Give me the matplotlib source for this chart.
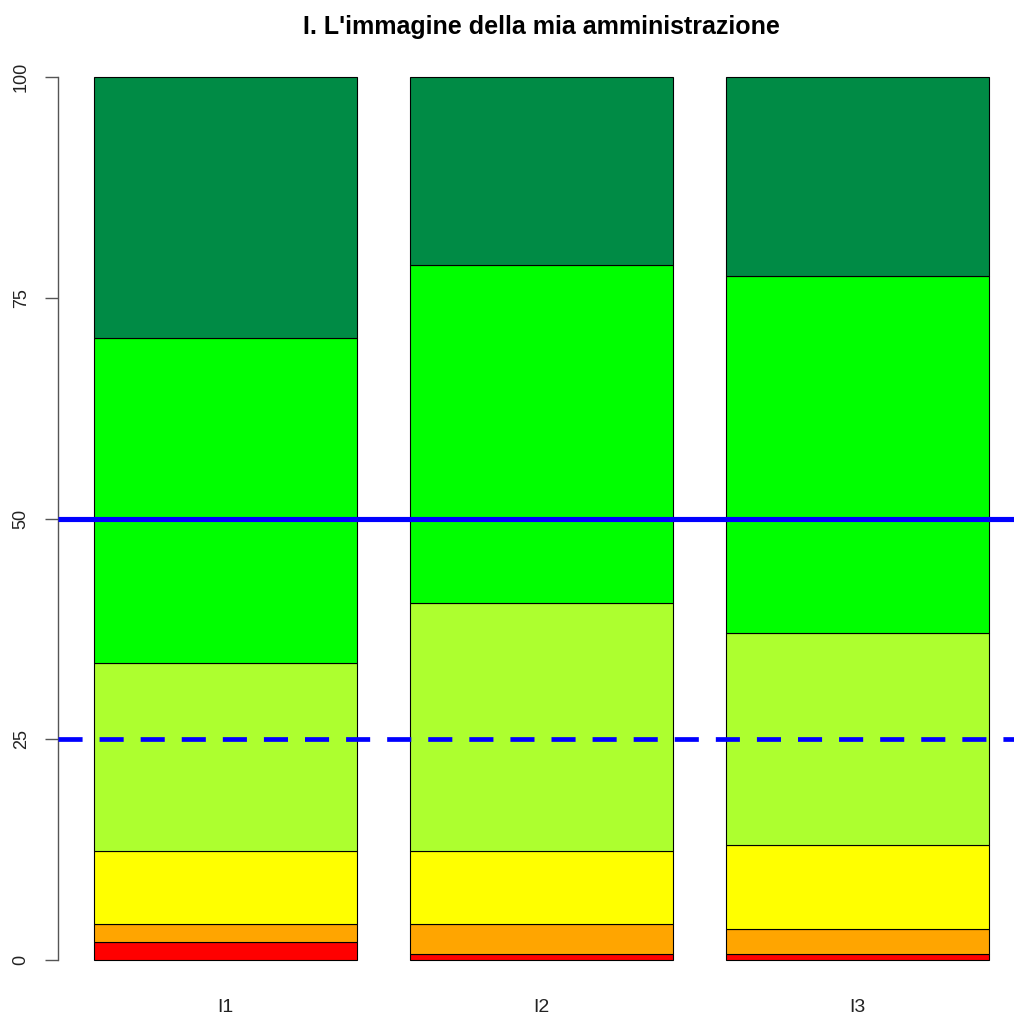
import matplotlib
matplotlib.use("Agg")
import matplotlib.pyplot as plt
import numpy as np

plt.rcParams['font.family'] = ['Liberation Sans', 'DejaVu Sans']

categories = ["I1", "I2", "I3"]
# stacked segment heights (percent), bottom to top
red = [2.04, 0.68, 0.68]
orange = [2.04, 3.40, 2.82]
yellow = [8.22, 8.22, 9.50]
greenyellow = [21.30, 28.10, 24.00]
green = [36.80, 38.30, 40.50]
darkgreen = [29.60, 21.30, 22.50]
segments = [red, orange, yellow, greenyellow, green, darkgreen]
colors = ["#FF0000", "#FFA500", "#FFFF00", "#ADFF2F", "#00FF00", "#008B45"]
yticks = [0, 25, 50, 75, 100]
title = "I. L'immagine della mia amministrazione"

W, H = 1014, 1017
fig = plt.figure(figsize=(W / 100, H / 100), dpi=100)
# plot region in pixels: x 58 -> right edge, y 41.7 (top) -> 995.3 (bottom)
ax = fig.add_axes([58 / W, (H - 995.3) / H, (W - 58) / W, (995.3 - 41.7) / H])

x = np.array([0.7, 1.9, 3.1])
bottom = np.zeros(3)
for seg, c in zip(segments, colors):
    ax.bar(x, seg, width=1.0, bottom=bottom, color=c, edgecolor="black",
           linewidth=0.8, zorder=2)
    bottom += np.array(seg)

ax.set_xlim(0.064, 0.064 + (W - 58) / 263.3)
ax.set_ylim(-4, 104)

ax.axhline(50, color="#0000FF", linewidth=3.7, zorder=3, solid_capstyle="butt")
ax.axhline(25, color="#0000FF", linewidth=3.4, zorder=3,
           linestyle=(0, (5.1, 3.6)), dash_capstyle="butt")

for s in ["top", "right", "bottom"]:
    ax.spines[s].set_visible(False)
ax.spines["left"].set_bounds(0, 100)
ax.spines["left"].set_color("#555555")
ax.spines["left"].set_linewidth(1.0)

ax.set_yticks(yticks)
ax.set_yticklabels([str(v) for v in yticks], rotation=90, va="center",
                   fontsize=13, color="#222222")
ax.tick_params(axis="y", length=9.4, width=1.0, color="#555555", pad=11)

ax.set_xticks(x)
ax.set_xticklabels(categories, fontsize=14, color="#222222")
ax.tick_params(axis="x", length=0, pad=2.5)

fig.text(541 / W, 1 - 27 / H, title, ha="center", va="center",
         fontsize=18, fontweight="bold")

fig.savefig("out.png", dpi=100)
